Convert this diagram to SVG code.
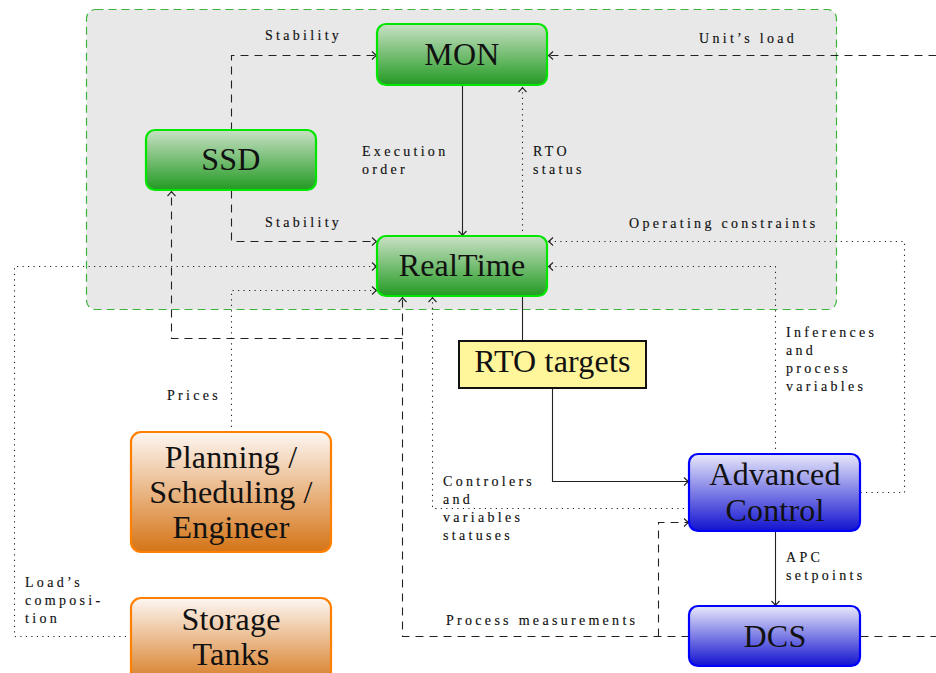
<svg xmlns="http://www.w3.org/2000/svg" width="936" height="673" viewBox="0 0 936 673">
<style>
.node text{font-family:"Liberation Serif","DejaVu Serif",serif;font-size:32px;fill:#111;text-anchor:middle;letter-spacing:0.2px}
.lbl{font-family:"Liberation Serif","DejaVu Serif",serif;font-size:14px;fill:#111;letter-spacing:3.3px;stroke:#111;stroke-width:0.15}
.c{fill:none;stroke:#222;stroke-width:1.1}
.dash{stroke-dasharray:8 6}
.dot{stroke-dasharray:1.2 4.3}
.arr{marker-end:url(#to)}
.g{fill:url(#gg);stroke:#00e600;stroke-width:2.2}
.b{fill:url(#gb);stroke:#0000ff;stroke-width:2.2}
.o{fill:url(#go);stroke:#ff8000;stroke-width:2.2}
</style>
<defs>
<linearGradient id="gg" x1="0" y1="0" x2="0" y2="1"><stop offset="0" stop-color="#c9e1c5"/><stop offset="1" stop-color="#229a22"/></linearGradient>
<linearGradient id="gb" x1="0" y1="0" x2="0" y2="1"><stop offset="0" stop-color="#e8e8fb"/><stop offset="1" stop-color="#1212d0"/></linearGradient>
<linearGradient id="go" x1="0" y1="0" x2="0" y2="1"><stop offset="0" stop-color="#fdf7f3"/><stop offset="1" stop-color="#d57416"/></linearGradient>
<marker id="to" markerUnits="userSpaceOnUse" markerWidth="12" markerHeight="12" viewBox="-6 -6 12 12" refX="0" refY="0" orient="auto">
<path d="M-4.5,-4 Q-1.5,-1 0,0 Q-1.5,1 -4.5,4" fill="none" stroke="#222" stroke-width="1.1"/>
</marker>
</defs>
<rect id="container" x="86.5" y="9.5" width="750" height="300" rx="9" fill="#e8e8e8" stroke="#3cb43c" stroke-width="1.2" stroke-dasharray="8 5"/>
<g id="connectors">
<g transform="translate(0.5,0.5)">
<path class="c dash arr" d="M231,130 V55 H376"/>
<path class="c dash arr" d="M231,190 V241 H376"/>
<path class="c dash arr" d="M936,55 H548"/>
<path class="c arr" d="M462,85 V235"/>
<path class="c dot arr" d="M522,236 V87"/>
<path class="c" d="M522,296 V341"/>
<path class="c arr" d="M552,388 V481 H688"/>
<path class="c dot arr" d="M689,508 H432 V297"/>
<path class="c dot arr" d="M775,454 V266 H548"/>
<path class="c dot arr" d="M860,492 H904 V241 H548"/>
<path class="c arr" d="M775,531 V605"/>
<path class="c dash" d="M860,636 H936"/>
<path class="c dash arr" d="M689,636 H402 V297"/>
<path class="c dash arr" d="M658,636 V522 H688"/>
<path class="c dash arr" d="M402,338 H171 V191"/>
<path class="c dot arr" d="M131,636 H14 V266 H376"/>
<path class="c dot arr" d="M231,432 V290 H376"/>
</g>
<text class="lbl" x="265" y="40">Stability</text>
<text class="lbl" x="265" y="227">Stability</text>
<text class="lbl" x="699" y="43">Unit’s load</text>
<text class="lbl" x="362" y="156">Execution</text>
<text class="lbl" x="362" y="174">order</text>
<text class="lbl" x="533" y="156">RTO</text>
<text class="lbl" x="533" y="174">status</text>
<text class="lbl" x="629" y="228">Operating constraints</text>
<text class="lbl" x="167" y="400">Prices</text>
<text class="lbl" x="786" y="337">Inferences</text>
<text class="lbl" x="786" y="355">and</text>
<text class="lbl" x="786" y="373">process</text>
<text class="lbl" x="786" y="391">variables</text>
<text class="lbl" x="443" y="486">Controlers</text>
<text class="lbl" x="443" y="504">and</text>
<text class="lbl" x="443" y="522">variables</text>
<text class="lbl" x="443" y="540">statuses</text>
<text class="lbl" x="786" y="562">APC</text>
<text class="lbl" x="786" y="580">setpoints</text>
<text class="lbl" x="446" y="625">Process measurements</text>
<text class="lbl" x="25" y="587">Load’s</text>
<text class="lbl" x="25" y="605">composi-</text>
<text class="lbl" x="25" y="623">tion</text>
</g>
<g id="MON" class="node"><rect class="g" x="377" y="24" width="170" height="61" rx="9"/><text x="462" y="65">MON</text></g>
<g id="SSD" class="node"><rect class="g" x="146" y="130" width="170" height="60" rx="9"/><text x="231" y="170">SSD</text></g>
<g id="RealTime" class="node"><rect class="g" x="377" y="236" width="170" height="60" rx="9"/><text x="462" y="276">RealTime</text></g>
<g id="RTOtargets" class="node"><rect x="459" y="341" width="187" height="47" fill="#fff59a" stroke="#111" stroke-width="2"/><text x="552.5" y="372">RTO targets</text></g>
<g id="AdvancedControl" class="node"><rect class="b" x="689" y="454" width="171" height="77" rx="9"/><text x="775" y="485">Advanced</text><text x="775" y="521">Control</text></g>
<g id="DCS" class="node"><rect class="b" x="689" y="606" width="171" height="60" rx="9"/><text x="775" y="647">DCS</text></g>
<g id="Planning" class="node"><rect class="o" x="131" y="432" width="200" height="120" rx="10"/><text x="231" y="468">Planning /</text><text x="231" y="503">Scheduling /</text><text x="231" y="538">Engineer</text></g>
<g id="StorageTanks" class="node"><rect class="o" x="131" y="598" width="200" height="90" rx="10"/><text x="231" y="630">Storage</text><text x="231" y="665">Tanks</text></g>
</svg>
